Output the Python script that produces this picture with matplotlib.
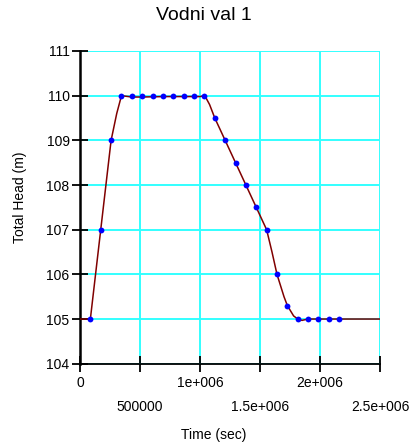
import numpy as np
import matplotlib.pyplot as plt

plt.rcParams['font.family'] = ['Liberation Sans', 'DejaVu Sans']

# measured heads, one per day (seconds)
obs_t = [86400, 172800, 259200, 345600, 432000, 518400, 604800, 691200,
         777600, 864000, 950400, 1036800, 1123200, 1209600, 1296000,
         1382400, 1468800, 1555200, 1641600, 1728000, 1814400, 1900800,
         1987200, 2073600, 2160000]
obs_h = [105.0, 107.0, 109.0, 110.0, 110.0, 110.0, 110.0, 110.0,
         110.0, 110.0, 110.0, 110.0, 109.5, 109.0, 108.5,
         108.0, 107.5, 107.0, 106.0, 105.3, 105.0, 105.0,
         105.0, 105.0, 105.0]

# computed head
sim_t = [0, 86400, 172800, 259200, 306000, 345600, 432000, 518400, 700000,
         900000, 1000000, 1040000, 1080000, 1123200, 1209600, 1296000,
         1382400, 1468800, 1555200, 1600000, 1641600, 1700000, 1728000,
         1780000, 1814400, 1850000, 1900800, 2000000, 2500000]
sim_h = [105.0, 105.0, 107.0, 109.0, 109.6, 110.0, 109.97, 109.97, 109.98,
         109.98, 109.98, 110.0, 109.8, 109.5, 109.0, 108.5,
         108.0, 107.5, 107.0, 106.5, 106.0, 105.5, 105.3,
         105.07, 105.0, 104.97, 105.0, 105.0, 105.0]

fig = plt.figure(figsize=(4.13, 4.46), dpi=100)
ax = fig.add_axes([80/413, 1 - 363.7/446, 300/413, 312.7/446])

ax.plot(sim_t, sim_h, color='#800000', lw=1.1, zorder=3)
ax.plot(obs_t, obs_h, 'o', color='#0000ff', ms=4.2, mec='none', zorder=4)

ax.set_xlim(0, 2.5e6)
ax.set_ylim(104, 111)
xt = np.arange(0, 2.5e6 + 1, 5e5)
ax.set_xticks(xt)
ax.set_xticklabels(['0', '\n500000', '1e+006', '\n1.5e+006', '2e+006', '\n2.5e+006'])
ax.set_yticks(range(104, 112))
ax.grid(True, color='#33ffff', lw=1.4, zorder=1)
ax.set_axisbelow(True)

for s in ['top', 'right']:
    ax.spines[s].set_visible(False)
ax.spines['left'].set_linewidth(1.8)
ax.spines['bottom'].set_linewidth(1.3)
ax.tick_params(direction='inout', length=11, width=1.3, labelsize=10, pad=2)
ax.tick_params(axis='x', pad=3)
for lab in ax.get_xticklabels():
    lab.set_linespacing(1.95)

fig.text(203.5/413, 1 - 15/446, 'Vodni val 1', ha='center', va='center', fontsize=14)
fig.text(214/413, 1 - 435/446, 'Time (sec)', ha='center', va='center', fontsize=10)
fig.text(20/413, 1 - 197/446, 'Total Head (m)', ha='center', va='center',
         rotation=90, fontsize=10)

fig.savefig('out.png', dpi=100)
